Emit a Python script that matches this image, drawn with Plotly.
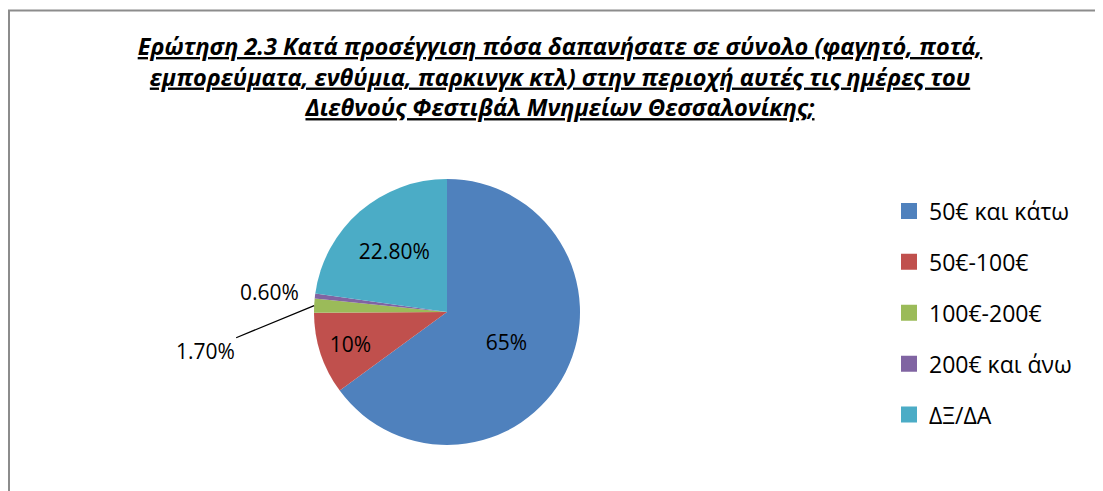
import math
import plotly.graph_objects as go

categories = ["50€ και κάτω", "50€-100€", "100€-200€", "200€ και άνω", "ΔΞ/ΔΑ"]
values = [65, 10, 1.7, 0.6, 22.8]
label_texts = ["65%", "10%", "1.70%", "0.60%", "22.80%"]
colors = ["#4F81BD", "#C0504D", "#9BBB59", "#8064A2", "#4BACC6"]

# the page body has an 8px margin, so the figure is drawn from (8, 8)
W, H = 1095, 483
FONT = "Open Sans"

# pie placement in figure pixels (margins are zero, so paper == figure)
cx_px, cy_px, r_px = 439, 304, 133
dom_x = [(cx_px - r_px) / W, (cx_px + r_px) / W]
dom_y = [1 - (cy_px + r_px) / H, 1 - (cy_px - r_px) / H]

inside = [t if v >= 5 else "" for t, v in zip(label_texts, values)]

fig = go.Figure()
fig.add_trace(go.Pie(
    labels=categories, values=values, sort=False, direction="clockwise",
    rotation=0, marker=dict(colors=colors, line=dict(width=0)),
    text=inside, textinfo="text", textposition="inside",
    insidetextorientation="horizontal",
    insidetextfont=dict(family=FONT, size=21, color="#000000"),
    domain=dict(x=dom_x, y=dom_y), showlegend=False, hoverinfo="label+percent",
))

# legend entries
for i, (c, col) in enumerate(zip(categories, colors)):
    fig.add_trace(go.Scatter(
        x=[None], y=[None], mode="markers", name=c, legendgroup=f"g{i}",
        marker=dict(symbol="square", size=16, color=col),
    ))

# outside labels for the small slices, positioned from the data
total = sum(values)
cum = 0
edge = []
for v in values:
    mid = (cum + v / 2) / total * 2 * math.pi
    edge.append((cx_px + r_px * math.sin(mid), cy_px - r_px * math.cos(mid)))
    cum += v

ex, ey = edge[2]
fig.add_annotation(x=ex / W, y=1 - ey / H, xref="paper", yref="paper",
                   text=label_texts[2], showarrow=True, arrowhead=0, arrowwidth=1.3,
                   arrowcolor="#000000", ax=-109, ay=45, standoff=0,
                   font=dict(family=FONT, size=21, color="#000000"))
ex, ey = edge[3]
fig.add_annotation(x=ex / W, y=1 - ey / H, xref="paper", yref="paper",
                   xanchor="center", yanchor="middle",
                   text=label_texts[3], showarrow=False, xshift=-45, yshift=4,
                   font=dict(family=FONT, size=21, color="#000000"))

title = ("Ερώτηση 2.3 Κατά προσέγγιση πόσα δαπανήσατε σε σύνολο (φαγητό, ποτά,<br>"
         "εμπορεύματα, ενθύμια, παρκινγκ κτλ) στην περιοχή αυτές τις ημέρες του<br>"
         "Διεθνούς Φεστιβάλ Μνημείων Θεσσαλονίκης;")

fig.update_layout(
    width=W, height=H,
    margin=dict(l=0, r=0, t=0, b=0),
    paper_bgcolor="white", plot_bgcolor="white",
    xaxis=dict(visible=False), yaxis=dict(visible=False),
    title=dict(text=title, x=552 / W, xanchor="center", y=1 - 47 / H, yanchor="top",
               font=dict(family=FONT, size=23.5, color="#000000", weight="bold",
                         style="italic", lineposition="under")),
    legend=dict(x=881 / W, y=1 - 305 / H, xanchor="left", yanchor="middle",
                font=dict(family=FONT, size=23, color="#000000"),
                tracegroupgap=18, itemclick=False),
    shapes=[dict(type="rect", xref="paper", yref="paper",
                 x0=1 / W, x1=1.2, y0=-0.2, y1=1 - 2.5 / H,
                 line=dict(color="#8C8C8C", width=2))],
)

fig.write_html("out.html")
